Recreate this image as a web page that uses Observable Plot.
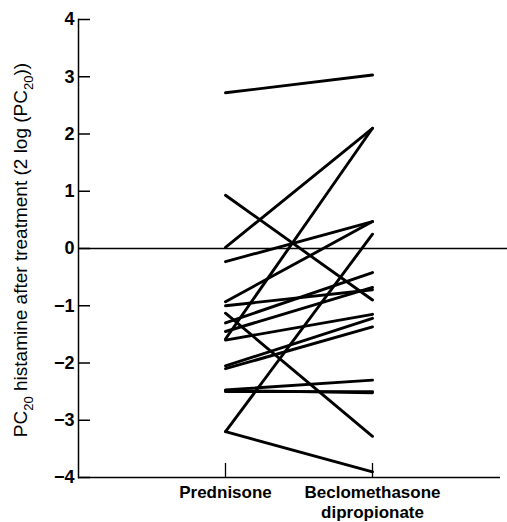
<!DOCTYPE html>
<html>
<head>
<meta charset="utf-8">
<script src="https://cdn.jsdelivr.net/npm/d3@7"></script>
<script src="https://cdn.jsdelivr.net/npm/@observablehq/plot@0.6"></script>
<style>
  html, body { margin: 0; padding: 0; background: #fff; }
  #chart svg { display: block; }
</style>
</head>
<body>
<div id="chart"></div>
<script>
const categories = ["Prednisone", "Beclomethasone dipropionate"];
const categoryLabels = ["Prednisone", "Beclomethasone\ndipropionate"];
const prednisone    = [2.72, 0.93, 0.02, -0.23, -0.93, -1.00, -1.13, -1.30, -1.45, -1.58, -1.60, -2.05, -2.10, -2.47, -2.50, -2.48, -3.20, -3.20];
const beclomethasone = [3.03, -0.90, 2.10, 0.47, 0.47, -0.72, -3.28, -0.42, -0.68, 2.10, -1.15, -1.22, -1.37, -2.30, -2.50, -2.52, 0.25, -3.90];
const yTicks = [-4, -3, -2, -1, 0, 1, 2, 3, 4];

const pairs = prednisone.map((p, i) => ({pre: p, post: beclomethasone[i]}));
const fmt = d3.format("d");
const tickFmt = d => (d < 0 ? "\u2212" + fmt(-d) : fmt(d));

const chart = Plot.plot({
  width: 507,
  height: 522,
  marginLeft: 78,
  marginRight: 7,
  marginTop: 19,
  marginBottom: 45,
  style: {fontFamily: "'Liberation Sans', Arial, sans-serif", fontSize: "17px", fontWeight: "bold", color: "#000", background: "#fff"},
  x: {type: "point", domain: categories, range: [225, 372], padding: 0},
  y: {domain: [-4, 4]},
  marks: [
    Plot.ruleY([0], {stroke: "#000", strokeWidth: 1.3, insetRight: -7}),
    Plot.ruleY([-4], {stroke: "#000", strokeWidth: 1.5}),
    Plot.frame({anchor: "left", stroke: "#000", strokeWidth: 1.5}),
    Plot.axisY({ticks: yTicks, tickSize: 0, tickPadding: 4, tickFormat: tickFmt, label: null, fontSize: 18}),
    Plot.tickY(yTicks, {y: d => d, stroke: "#000", strokeWidth: 1.5, insetRight: 507 - 78 - 7 - 12}),
    Plot.tickX(categories, {x: d => d, stroke: "#000", strokeWidth: 1.3, insetTop: 477 - 19 - 14}),
    Plot.axisX({tickSize: 0, tickPadding: 7, tickFormat: d => categoryLabels[categories.indexOf(d)], label: null, lineHeight: 1.15}),
    Plot.link(pairs, {x1: () => categories[0], x2: () => categories[1], y1: "pre", y2: "post", stroke: "#000", strokeWidth: 2.9, strokeLinecap: "round"})
  ]
});

const svg = d3.select(chart);
const t = svg.append("text")
  .attr("transform", "translate(22,250) rotate(-90)")
  .attr("text-anchor", "middle")
  .attr("dominant-baseline", "middle")
  .style("font-family", "'Liberation Sans', Arial, sans-serif")
  .style("font-size", "19px")
  .style("font-weight", "normal")
  .attr("fill", "#000");
t.append("tspan").text("PC");
t.append("tspan").attr("baseline-shift", "sub").style("font-size", "13px").text("20");
t.append("tspan").text(" histamine after treatment (2 log (PC");
t.append("tspan").attr("baseline-shift", "sub").style("font-size", "13px").text("20");
t.append("tspan").text("))");

document.getElementById("chart").appendChild(chart);
</script>
</body>
</html>
